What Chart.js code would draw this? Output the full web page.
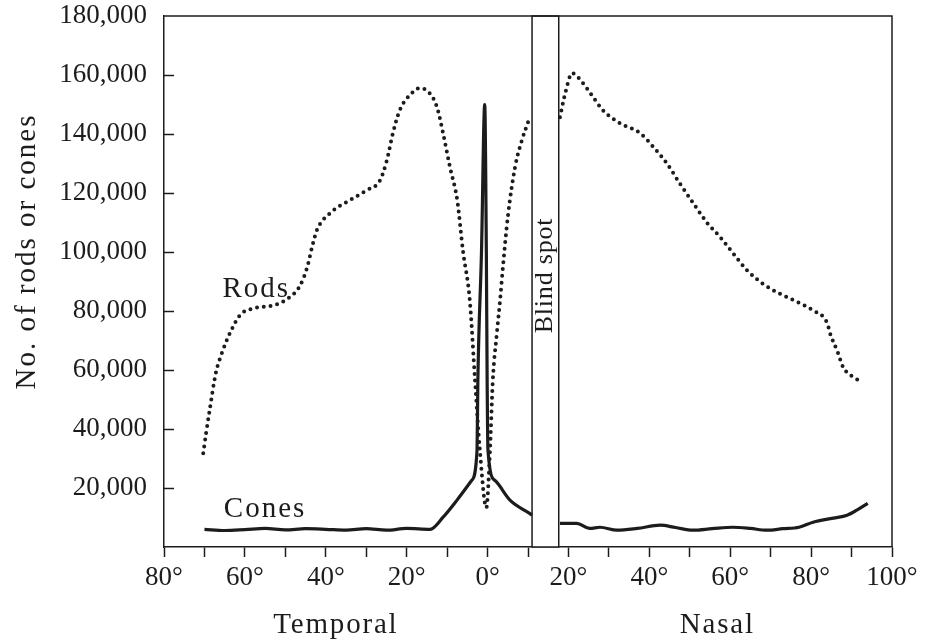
<!DOCTYPE html>
<html>
<head>
<meta charset="utf-8">
<script src="https://cdn.jsdelivr.net/npm/chart.js@4.4.1/dist/chart.umd.min.js"></script>
<style>
html, body { margin: 0; padding: 0; background: #fff; }
#wrap { width: 935px; height: 644px; }
</style>
</head>
<body>
<div id="wrap"><canvas id="retina"></canvas></div>
<script>
const inkColor = '#1c1c1c';
const serif = '"Liberation Serif", "DejaVu Serif", serif';

// angle from the fovea in degrees (temporal side negative), and cells per mm2
const rodAngles = [-70.3, -69.6, -68.6, -67.2, -65.7, -63.7, -61.2, -57.6, -52.6, -48.9, -46.4, -44.6, -43.4, -42.2,
    -38.9, -34.0, -29.8, -26.6, -24.9, -23.4, -21.7, -19.2, -16.7, -14.3, -12.5, -11.0, -9.3, -7.5, -6.1, -4.4, -3.1,
    -1.9, -0.3, 0.6, 1.3, 2.3, 3.1, 3.8, 5.0, 6.8, 8.5, 10.0, 14, 17.9, 19.2, 20.9, 23.6, 26.1, 28.5, 32.8, 37.7,
    41.0, 44.3, 47.5, 50.9, 54.4, 57.5, 60.7, 64.1, 68.0, 72.2, 77.3, 80.5, 84.0, 84.7, 86.7, 87.9, 90.4, 92.8];
const rodCounts = [31800, 38500, 47400, 58900, 65700, 72500, 78600, 81000, 82000, 84700, 88500, 94800, 101600, 107400,
    113200, 117600, 121000, 124300, 131100, 140300, 148100, 153200, 155600, 153800, 149100, 140300, 128800, 117600,
    100600, 83700, 56500, 32800, 13300, 32800, 56500, 72500, 83700, 94900, 111800, 128800, 137900, 144000, null,
    145700, 153800, 160600, 157200, 152500, 148100, 143600, 140300, 135600, 130100, 123300, 116500, 109700, 105100,
    99600, 93900, 89300, 85900, 82600, 80200, 75800, 72400, 65600, 61000, 57600, 55900];

const coneAngles = [-70, -65, -60, -55, -50, -45, -40, -35, -30, -25, -20, -14.2, -11, -7.6, -3.9, -2.6, -2.4,
    -1.5, -0.7, -0.3, -0.1, 0.1, 1.8, 5.6, 10.5, 11, 14, 17.9, 22, 25.3, 27.8, 32, 37, 42.7, 46.5, 50.8, 55.5, 60.6,
    65, 69, 73, 77, 80.5, 85.5, 88.9, 91.3, 94];
const coneCounts = [6000, 5600, 5900, 6300, 5800, 6200, 6000, 5700, 6200, 5700, 6300, 6000, 10100, 15800,
    22600, 32800, 56000, 100000, 150000, 100000, 56000, 32800, 22600, 15800, 11300, 10800, null, 8000, 8000, 6300,
    6700, 5700, 6300, 7400, 6600, 5700, 6200, 6700, 6300, 5700, 6200, 6700, 8400, 9800, 10800, 12500, 14800];

const blindSpot = [11, 17.6];
const angleTickLabels = ['80°', '60°', '40°', '20°', '0°', '20°', '40°', '60°', '80°', '100°'];
const sideLabels = ['Temporal', 'Nasal'];
const curveLabels = ['Rods', 'Cones'];
const yTitle = 'No. of rods or cones';
const blindLabel = 'Blind spot';

const toPoints = (xs, ys) => xs.map((x, i) => ({ x: x, y: ys[i] }));

function spacedText(ctx, text, x, y, spacing) {
    ctx.letterSpacing = spacing + 'px';
    ctx.fillText(text, x, y);
    ctx.letterSpacing = '0px';
}

const retinaDecor = {
    id: 'retinaDecor',
    beforeDatasetsDraw(chart) {
        const { ctx, chartArea: a, scales: { x } } = chart;
        const l = x.getPixelForValue(blindSpot[0]);
        const r = x.getPixelForValue(blindSpot[1]);
        ctx.save();
        ctx.fillStyle = '#fff';
        ctx.strokeStyle = inkColor;
        ctx.lineWidth = 1.5;
        ctx.fillRect(l, a.top, r - l, a.bottom - a.top);
        ctx.strokeRect(l, a.top, r - l, a.bottom - a.top);

        // rotated label inside the blind spot
        ctx.translate((l + r) / 2 + 6.5, 275.5);
        ctx.rotate(-Math.PI / 2);
        ctx.fillStyle = inkColor;
        ctx.font = '26px ' + serif;
        ctx.textAlign = 'center';
        ctx.textBaseline = 'alphabetic';
        spacedText(ctx, blindLabel, 0, 0, 0.8);
        ctx.restore();
    },
    afterDraw(chart) {
        const { ctx, chartArea: a, scales: { x, y } } = chart;
        ctx.save();
        ctx.strokeStyle = inkColor;
        ctx.lineWidth = 1.5;

        // closing frame on top and right
        ctx.beginPath();
        ctx.moveTo(a.left, a.top);
        ctx.lineTo(a.right, a.top);
        ctx.lineTo(a.right, a.bottom);
        ctx.stroke();

        // y ticks point inwards
        y.ticks.forEach(t => {
            if (t.value <= 0 || t.value >= y.max) return;
            const py = Math.round(y.getPixelForValue(t.value)) + 0.5;
            ctx.beginPath();
            ctx.moveTo(a.left, py);
            ctx.lineTo(a.left + 10, py);
            ctx.stroke();
        });

        ctx.fillStyle = inkColor;
        ctx.textAlign = 'center';
        ctx.textBaseline = 'alphabetic';
        ctx.font = '29px ' + serif;

        // curve names
        spacedText(ctx, curveLabels[0], x.getPixelForValue(-57.2), y.getPixelForValue(84700), 2);
        spacedText(ctx, curveLabels[1], x.getPixelForValue(-55), y.getPixelForValue(10100), 2);

        // side names under the axis
        spacedText(ctx, sideLabels[0], x.getPixelForValue(-37.5), a.bottom + 86, 1.8);
        spacedText(ctx, sideLabels[1], x.getPixelForValue(56.8), a.bottom + 86, 1.8);

        // y axis title
        ctx.translate(a.left - 129, 251.5);
        ctx.rotate(-Math.PI / 2);
        spacedText(ctx, yTitle, 0, 0, 2);
        ctx.restore();
    }
};

Chart.defaults.font.family = serif;
Chart.defaults.color = inkColor;

new Chart(document.getElementById('retina'), {
    type: 'line',
    data: {
        datasets: [{
            label: 'Rods',
            data: toPoints(rodAngles, rodCounts),
            borderColor: inkColor,
            borderWidth: 4,
            borderDash: [0, 6.8],
            borderCapStyle: 'round',
            pointRadius: 0,
            cubicInterpolationMode: 'monotone',
            spanGaps: false
        }, {
            label: 'Cones',
            data: toPoints(coneAngles, coneCounts),
            borderColor: inkColor,
            borderWidth: 3.2,
            borderJoinStyle: 'round',
            pointRadius: 0,
            cubicInterpolationMode: 'monotone',
            spanGaps: false
        }]
    },
    options: {
        responsive: true,
        maintainAspectRatio: false,
        animation: false,
        devicePixelRatio: 1,
        layout: { padding: { top: 0, right: 43, left: 0, bottom: 0 } },
        plugins: {
            legend: { display: false },
            tooltip: { enabled: false }
        },
        scales: {
            x: {
                type: 'linear',
                min: -80,
                max: 100,
                afterFit: s => { s.height = 97; },
                afterBuildTicks: s => {
                    s.ticks = [];
                    for (let v = -80; v <= 100; v += 10) s.ticks.push({ value: v });
                },
                ticks: {
                    autoSkip: false,
                    maxRotation: 0,
                    padding: 5,
                    font: { size: 27 },
                    callback: (v, i) => i % 2 === 0 ? angleTickLabels[i / 2] : ''
                },
                grid: { drawOnChartArea: false, tickLength: 10, tickColor: inkColor, tickWidth: 1.5 },
                border: { color: inkColor, width: 1.5 }
            },
            y: {
                min: 0,
                max: 180000,
                afterFit: s => { s.width = 164; s.paddingTop = 16; },
                ticks: {
                    stepSize: 20000,
                    padding: 17,
                    font: { size: 27 },
                    callback: v => v === 0 ? '' : v.toLocaleString('en-US')
                },
                grid: { drawOnChartArea: false, drawTicks: false },
                border: { color: inkColor, width: 1.5 }
            }
        }
    },
    plugins: [retinaDecor]
});
</script>
</body>
</html>
